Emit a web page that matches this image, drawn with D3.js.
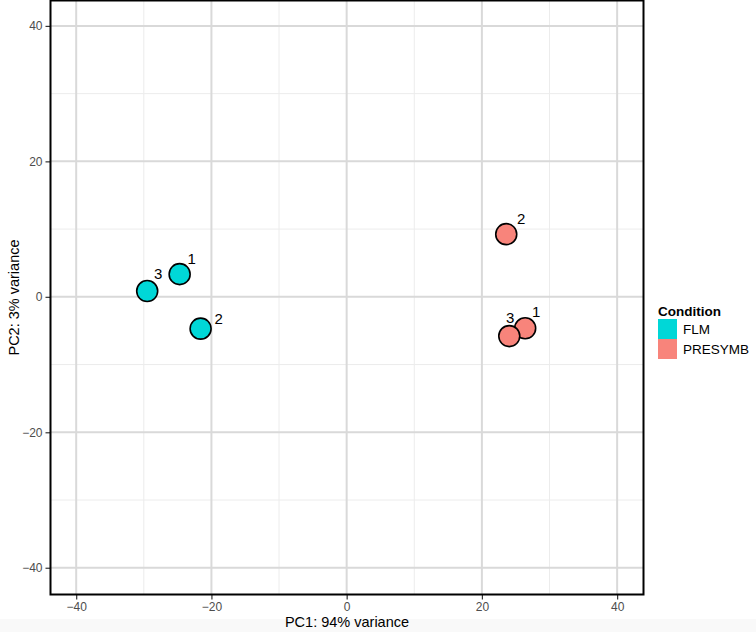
<!DOCTYPE html>
<html>
<head>
<meta charset="utf-8">
<script src="https://cdn.jsdelivr.net/npm/d3@7"></script>
<style>
  html, body { margin: 0; padding: 0; background: #ffffff; }
  svg { display: block; font-family: "Liberation Sans", Arial, sans-serif; }
</style>
</head>
<body>
<svg id="chart" width="756" height="632"></svg>
<script>
// ---- data ----
const samples = ["1", "2", "3", "1", "2", "3"];
const conditions = ["FLM", "FLM", "FLM", "PRESYMB", "PRESYMB", "PRESYMB"];
const pc1 = [-24.7, -21.6, -29.5, 26.4, 23.6, 24.05];
const pc2 = [3.35, -4.7, 0.85, -4.65, 9.25, -5.8];
const conditionLevels = ["FLM", "PRESYMB"];
const majorTicks = [-40, -20, 0, 20, 40];
const minorTicks = [-30, -10, 10, 30];
const xTitle = "PC1: 94% variance";
const yTitle = "PC2: 3% variance";
const legendTitle = "Condition";
// label nudges (px) to mimic repelled labels
const labelDx = [12, 18, 11, 11, 15, 1];
const labelDy = [-16, -10, -18, -17, -16, -19];

// ---- layout ----
const svg = d3.select("#chart");
const panel = { left: 50.5, right: 643.5, top: 0.5, bottom: 594.5 };
const x = d3.scaleLinear().domain([-43.8, 43.9]).range([panel.left, panel.right]);
const y = d3.scaleLinear().domain([-43.95, 43.75]).range([panel.bottom, panel.top]);
const color = d3.scaleOrdinal().domain(conditionLevels).range(["#00D7D7", "#F8847B"]);

svg.append("rect").attr("x", 0).attr("y", 619).attr("width", 756).attr("height", 13).attr("fill", "#f9f9f9");

const g = svg.append("g");
// minor grid
g.selectAll("line.vminor").data(minorTicks).join("line")
  .attr("x1", d => x(d)).attr("x2", d => x(d)).attr("y1", panel.top).attr("y2", panel.bottom)
  .attr("stroke", "#ececec").attr("stroke-width", 1);
g.selectAll("line.hminor").data(minorTicks).join("line")
  .attr("y1", d => y(d)).attr("y2", d => y(d)).attr("x1", panel.left).attr("x2", panel.right)
  .attr("stroke", "#ececec").attr("stroke-width", 1);
// major grid
g.selectAll("line.vmajor").data(majorTicks).join("line")
  .attr("x1", d => x(d)).attr("x2", d => x(d)).attr("y1", panel.top).attr("y2", panel.bottom)
  .attr("stroke", "#d9d9d9").attr("stroke-width", 2);
g.selectAll("line.hmajor").data(majorTicks).join("line")
  .attr("y1", d => y(d)).attr("y2", d => y(d)).attr("x1", panel.left).attr("x2", panel.right)
  .attr("stroke", "#d9d9d9").attr("stroke-width", 2);

// axes
const xAxis = d3.axisBottom(x).tickValues(majorTicks).tickSize(5).tickPadding(3)
  .tickFormat(d => d < 0 ? "\u2212" + Math.abs(d) : d);
const yAxis = d3.axisLeft(y).tickValues(majorTicks).tickSize(5).tickPadding(3)
  .tickFormat(d => d < 0 ? "\u2212" + Math.abs(d) : d);
const gx = svg.append("g").attr("transform", `translate(0,${panel.bottom})`).call(xAxis);
const gy = svg.append("g").attr("transform", `translate(${panel.left},0)`).call(yAxis);
[gx, gy].forEach(a => {
  a.select(".domain").remove();
  a.selectAll(".tick line").attr("stroke", "#333").attr("stroke-width", 1.2);
  a.selectAll(".tick text").attr("fill", "#4d4d4d").attr("font-size", 12)
    .attr("font-family", "Liberation Sans, Arial, sans-serif");
});

// panel border
svg.append("rect").attr("x", panel.left).attr("y", panel.top)
  .attr("width", panel.right - panel.left).attr("height", panel.bottom - panel.top)
  .attr("fill", "none").attr("stroke", "#000").attr("stroke-width", 2);

// points
const idx = d3.range(pc1.length);
svg.append("g").selectAll("circle").data(idx).join("circle")
  .attr("cx", i => x(pc1[i])).attr("cy", i => y(pc2[i])).attr("r", 10.5)
  .attr("fill", i => color(conditions[i])).attr("stroke", "#000").attr("stroke-width", 1.6);

// labels
svg.append("g").selectAll("text").data(idx).join("text")
  .attr("x", i => x(pc1[i]) + labelDx[i]).attr("y", i => y(pc2[i]) + labelDy[i])
  .attr("text-anchor", "middle").attr("dominant-baseline", "central")
  .attr("font-size", 15).attr("fill", "#000").text(i => samples[i]);

// axis titles
svg.append("text").attr("x", (panel.left + panel.right) / 2).attr("y", 627)
  .attr("text-anchor", "middle").attr("font-size", 14.5).attr("fill", "#000").text(xTitle);
svg.append("text").attr("transform", `translate(19,${(panel.top + panel.bottom) / 2}) rotate(-90)`)
  .attr("text-anchor", "middle").attr("font-size", 14.5).attr("fill", "#000").text(yTitle);

// legend
const lg = svg.append("g").attr("transform", "translate(658,0)");
lg.append("text").attr("x", 0).attr("y", 316).attr("font-size", 13.5).attr("font-weight", "bold")
  .attr("fill", "#000").text(legendTitle);
lg.selectAll("rect").data(conditionLevels).join("rect")
  .attr("x", 0).attr("y", (d, i) => 319 + i * 20).attr("width", 19).attr("height", 20)
  .attr("fill", d => color(d));
lg.selectAll("text.lab").data(conditionLevels).join("text").attr("class", "lab")
  .attr("x", 25).attr("y", (d, i) => 329 + i * 20).attr("dominant-baseline", "central")
  .attr("font-size", 13.5).attr("fill", "#000").text(d => d);
</script>
</body>
</html>
